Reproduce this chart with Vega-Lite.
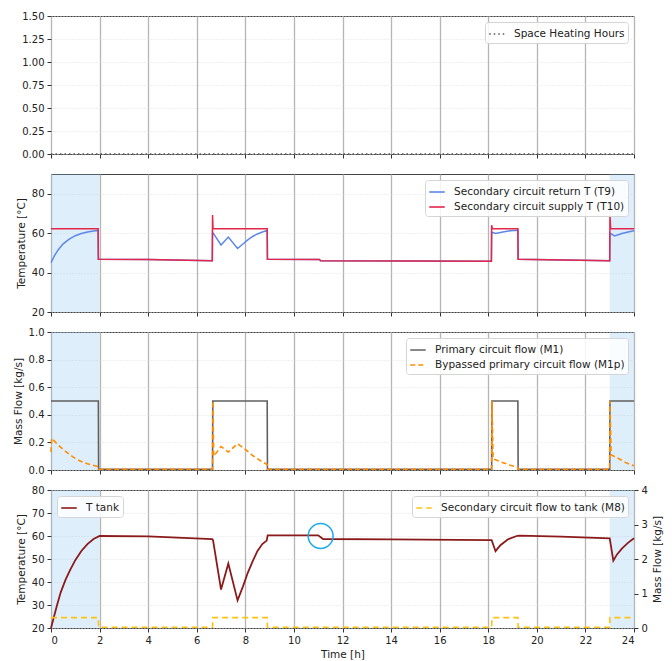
{
  "$schema": "https://vega.github.io/schema/vega-lite/v6.json",
  "autosize": {"type": "pad"},
  "padding": {"left": 12, "top": 10, "right": 5, "bottom": 5},
  "background": "white",
  "datasets": {
    "shade": [{"a": 0, "b": 2}, {"a": 23, "b": 24}],
    "p1": [{"s": "Space Heating Hours", "t": 0, "v": 0}, {"s": "Space Heating Hours", "t": 24, "v": 0}],
    "t9": [
      {"s": "Secondary circuit return T (T9)", "t": 0, "v": 45},
      {"s": "Secondary circuit return T (T9)", "t": 0.15, "v": 48.7},
      {"s": "Secondary circuit return T (T9)", "t": 0.3, "v": 51.6},
      {"s": "Secondary circuit return T (T9)", "t": 0.5, "v": 54.6},
      {"s": "Secondary circuit return T (T9)", "t": 0.75, "v": 57.0},
      {"s": "Secondary circuit return T (T9)", "t": 1.0, "v": 58.7},
      {"s": "Secondary circuit return T (T9)", "t": 1.25, "v": 59.8},
      {"s": "Secondary circuit return T (T9)", "t": 1.5, "v": 60.6},
      {"s": "Secondary circuit return T (T9)", "t": 1.75, "v": 61.1},
      {"s": "Secondary circuit return T (T9)", "t": 1.94, "v": 61.4},
      {"s": "Secondary circuit return T (T9)", "t": 1.95, "v": 46.8},
      {"s": "Secondary circuit return T (T9)", "t": 4, "v": 46.6},
      {"s": "Secondary circuit return T (T9)", "t": 6.64, "v": 46.0},
      {"s": "Secondary circuit return T (T9)", "t": 6.65, "v": 60.5},
      {"s": "Secondary circuit return T (T9)", "t": 7.0, "v": 54.0},
      {"s": "Secondary circuit return T (T9)", "t": 7.3, "v": 58.0},
      {"s": "Secondary circuit return T (T9)", "t": 7.68, "v": 52.2},
      {"s": "Secondary circuit return T (T9)", "t": 7.9, "v": 54.5},
      {"s": "Secondary circuit return T (T9)", "t": 8.1, "v": 56.6},
      {"s": "Secondary circuit return T (T9)", "t": 8.3, "v": 58.3},
      {"s": "Secondary circuit return T (T9)", "t": 8.5, "v": 59.6},
      {"s": "Secondary circuit return T (T9)", "t": 8.7, "v": 60.6},
      {"s": "Secondary circuit return T (T9)", "t": 8.9, "v": 61.3},
      {"s": "Secondary circuit return T (T9)", "t": 8.91, "v": 46.7},
      {"s": "Secondary circuit return T (T9)", "t": 11.05, "v": 46.6},
      {"s": "Secondary circuit return T (T9)", "t": 11.1, "v": 46.0},
      {"s": "Secondary circuit return T (T9)", "t": 18.13, "v": 45.8},
      {"s": "Secondary circuit return T (T9)", "t": 18.14, "v": 60.5},
      {"s": "Secondary circuit return T (T9)", "t": 18.3, "v": 59.8},
      {"s": "Secondary circuit return T (T9)", "t": 18.6, "v": 60.6},
      {"s": "Secondary circuit return T (T9)", "t": 18.9, "v": 61.2},
      {"s": "Secondary circuit return T (T9)", "t": 19.22, "v": 61.5},
      {"s": "Secondary circuit return T (T9)", "t": 19.23, "v": 46.7},
      {"s": "Secondary circuit return T (T9)", "t": 23.0, "v": 46.0},
      {"s": "Secondary circuit return T (T9)", "t": 23.01, "v": 60.0},
      {"s": "Secondary circuit return T (T9)", "t": 23.2, "v": 58.6},
      {"s": "Secondary circuit return T (T9)", "t": 23.5, "v": 59.8},
      {"s": "Secondary circuit return T (T9)", "t": 23.8, "v": 60.7},
      {"s": "Secondary circuit return T (T9)", "t": 24, "v": 61.2}
    ],
    "t10": [
      {"s": "Secondary circuit supply T (T10)", "t": 0, "v": 62.2},
      {"s": "Secondary circuit supply T (T10)", "t": 1.94, "v": 62.2},
      {"s": "Secondary circuit supply T (T10)", "t": 1.95, "v": 46.8},
      {"s": "Secondary circuit supply T (T10)", "t": 4, "v": 46.6},
      {"s": "Secondary circuit supply T (T10)", "t": 6.64, "v": 46.0},
      {"s": "Secondary circuit supply T (T10)", "t": 6.65, "v": 69.2},
      {"s": "Secondary circuit supply T (T10)", "t": 6.67, "v": 62.2},
      {"s": "Secondary circuit supply T (T10)", "t": 8.9, "v": 62.2},
      {"s": "Secondary circuit supply T (T10)", "t": 8.91, "v": 46.7},
      {"s": "Secondary circuit supply T (T10)", "t": 11.05, "v": 46.6},
      {"s": "Secondary circuit supply T (T10)", "t": 11.1, "v": 46.0},
      {"s": "Secondary circuit supply T (T10)", "t": 18.13, "v": 45.8},
      {"s": "Secondary circuit supply T (T10)", "t": 18.14, "v": 64.0},
      {"s": "Secondary circuit supply T (T10)", "t": 18.17, "v": 62.2},
      {"s": "Secondary circuit supply T (T10)", "t": 19.22, "v": 62.2},
      {"s": "Secondary circuit supply T (T10)", "t": 19.23, "v": 46.7},
      {"s": "Secondary circuit supply T (T10)", "t": 23.0, "v": 46.0},
      {"s": "Secondary circuit supply T (T10)", "t": 23.01, "v": 69.0},
      {"s": "Secondary circuit supply T (T10)", "t": 23.04, "v": 62.2},
      {"s": "Secondary circuit supply T (T10)", "t": 24, "v": 62.2}
    ],
    "m1": [
      {"s": "Primary circuit flow (M1)", "t": 0, "v": 0.5},
      {"s": "Primary circuit flow (M1)", "t": 1.95, "v": 0.5},
      {"s": "Primary circuit flow (M1)", "t": 1.96, "v": 0.005},
      {"s": "Primary circuit flow (M1)", "t": 6.65, "v": 0.005},
      {"s": "Primary circuit flow (M1)", "t": 6.66, "v": 0.5},
      {"s": "Primary circuit flow (M1)", "t": 8.9, "v": 0.5},
      {"s": "Primary circuit flow (M1)", "t": 8.91, "v": 0.005},
      {"s": "Primary circuit flow (M1)", "t": 18.14, "v": 0.005},
      {"s": "Primary circuit flow (M1)", "t": 18.15, "v": 0.5},
      {"s": "Primary circuit flow (M1)", "t": 19.22, "v": 0.5},
      {"s": "Primary circuit flow (M1)", "t": 19.23, "v": 0.005},
      {"s": "Primary circuit flow (M1)", "t": 23.0, "v": 0.005},
      {"s": "Primary circuit flow (M1)", "t": 23.01, "v": 0.5},
      {"s": "Primary circuit flow (M1)", "t": 24, "v": 0.5}
    ],
    "m1p": [
      {"s": "Bypassed primary circuit flow (M1p)", "t": 0, "v": 0.13},
      {"s": "Bypassed primary circuit flow (M1p)", "t": 0.03, "v": 0.23},
      {"s": "Bypassed primary circuit flow (M1p)", "t": 0.3, "v": 0.18},
      {"s": "Bypassed primary circuit flow (M1p)", "t": 0.6, "v": 0.135},
      {"s": "Bypassed primary circuit flow (M1p)", "t": 0.9, "v": 0.095},
      {"s": "Bypassed primary circuit flow (M1p)", "t": 1.2, "v": 0.065},
      {"s": "Bypassed primary circuit flow (M1p)", "t": 1.5, "v": 0.045},
      {"s": "Bypassed primary circuit flow (M1p)", "t": 1.95, "v": 0.025},
      {"s": "Bypassed primary circuit flow (M1p)", "t": 1.96, "v": 0.005},
      {"s": "Bypassed primary circuit flow (M1p)", "t": 6.65, "v": 0.005},
      {"s": "Bypassed primary circuit flow (M1p)", "t": 6.66, "v": 0.5},
      {"s": "Bypassed primary circuit flow (M1p)", "t": 6.7, "v": 0.1},
      {"s": "Bypassed primary circuit flow (M1p)", "t": 7.0, "v": 0.17},
      {"s": "Bypassed primary circuit flow (M1p)", "t": 7.3, "v": 0.13},
      {"s": "Bypassed primary circuit flow (M1p)", "t": 7.68, "v": 0.19},
      {"s": "Bypassed primary circuit flow (M1p)", "t": 8.0, "v": 0.15},
      {"s": "Bypassed primary circuit flow (M1p)", "t": 8.3, "v": 0.105},
      {"s": "Bypassed primary circuit flow (M1p)", "t": 8.6, "v": 0.07},
      {"s": "Bypassed primary circuit flow (M1p)", "t": 8.9, "v": 0.04},
      {"s": "Bypassed primary circuit flow (M1p)", "t": 8.91, "v": 0.005},
      {"s": "Bypassed primary circuit flow (M1p)", "t": 18.14, "v": 0.005},
      {"s": "Bypassed primary circuit flow (M1p)", "t": 18.15, "v": 0.5},
      {"s": "Bypassed primary circuit flow (M1p)", "t": 18.2, "v": 0.08},
      {"s": "Bypassed primary circuit flow (M1p)", "t": 18.5, "v": 0.06},
      {"s": "Bypassed primary circuit flow (M1p)", "t": 18.9, "v": 0.035},
      {"s": "Bypassed primary circuit flow (M1p)", "t": 19.22, "v": 0.02},
      {"s": "Bypassed primary circuit flow (M1p)", "t": 19.23, "v": 0.005},
      {"s": "Bypassed primary circuit flow (M1p)", "t": 23.0, "v": 0.005},
      {"s": "Bypassed primary circuit flow (M1p)", "t": 23.01, "v": 0.5},
      {"s": "Bypassed primary circuit flow (M1p)", "t": 23.06, "v": 0.11},
      {"s": "Bypassed primary circuit flow (M1p)", "t": 23.4, "v": 0.08},
      {"s": "Bypassed primary circuit flow (M1p)", "t": 23.7, "v": 0.05},
      {"s": "Bypassed primary circuit flow (M1p)", "t": 24, "v": 0.03}
    ],
    "tank": [
      {"s": "T tank", "t": 0, "v": 20},
      {"s": "T tank", "t": 0.1, "v": 24},
      {"s": "T tank", "t": 0.25, "v": 30},
      {"s": "T tank", "t": 0.4, "v": 35.5},
      {"s": "T tank", "t": 0.6, "v": 41},
      {"s": "T tank", "t": 0.8, "v": 45.5},
      {"s": "T tank", "t": 1.0, "v": 49.5},
      {"s": "T tank", "t": 1.25, "v": 53.5},
      {"s": "T tank", "t": 1.5, "v": 56.5},
      {"s": "T tank", "t": 1.75, "v": 58.7},
      {"s": "T tank", "t": 2.0, "v": 60.0},
      {"s": "T tank", "t": 4, "v": 59.8},
      {"s": "T tank", "t": 6.64, "v": 58.6},
      {"s": "T tank", "t": 6.67, "v": 58.2},
      {"s": "T tank", "t": 7.0, "v": 36.7},
      {"s": "T tank", "t": 7.3, "v": 48},
      {"s": "T tank", "t": 7.68, "v": 32},
      {"s": "T tank", "t": 7.9, "v": 38},
      {"s": "T tank", "t": 8.1, "v": 44},
      {"s": "T tank", "t": 8.3, "v": 49},
      {"s": "T tank", "t": 8.5, "v": 53.5},
      {"s": "T tank", "t": 8.7, "v": 56.5},
      {"s": "T tank", "t": 8.88, "v": 58},
      {"s": "T tank", "t": 8.92, "v": 60.3},
      {"s": "T tank", "t": 11.0, "v": 60.3},
      {"s": "T tank", "t": 11.2, "v": 58.7},
      {"s": "T tank", "t": 14, "v": 58.5},
      {"s": "T tank", "t": 18.14, "v": 58.2},
      {"s": "T tank", "t": 18.3, "v": 53.4},
      {"s": "T tank", "t": 18.5, "v": 56},
      {"s": "T tank", "t": 18.8, "v": 58.5},
      {"s": "T tank", "t": 19.2, "v": 60.1},
      {"s": "T tank", "t": 19.3, "v": 60.2},
      {"s": "T tank", "t": 21, "v": 59.7},
      {"s": "T tank", "t": 23.0, "v": 59.0},
      {"s": "T tank", "t": 23.15, "v": 49.3},
      {"s": "T tank", "t": 23.3, "v": 52},
      {"s": "T tank", "t": 23.5, "v": 54.5},
      {"s": "T tank", "t": 23.75, "v": 57},
      {"s": "T tank", "t": 24, "v": 59}
    ],
    "m8": [
      {"s": "Secondary circuit flow to tank (M8)", "t": 0, "v": 0.3},
      {"s": "Secondary circuit flow to tank (M8)", "t": 1.95, "v": 0.3},
      {"s": "Secondary circuit flow to tank (M8)", "t": 1.96, "v": 0.02},
      {"s": "Secondary circuit flow to tank (M8)", "t": 6.65, "v": 0.02},
      {"s": "Secondary circuit flow to tank (M8)", "t": 6.66, "v": 0.3},
      {"s": "Secondary circuit flow to tank (M8)", "t": 8.9, "v": 0.3},
      {"s": "Secondary circuit flow to tank (M8)", "t": 8.91, "v": 0.02},
      {"s": "Secondary circuit flow to tank (M8)", "t": 18.14, "v": 0.02},
      {"s": "Secondary circuit flow to tank (M8)", "t": 18.15, "v": 0.3},
      {"s": "Secondary circuit flow to tank (M8)", "t": 19.22, "v": 0.3},
      {"s": "Secondary circuit flow to tank (M8)", "t": 19.23, "v": 0.02},
      {"s": "Secondary circuit flow to tank (M8)", "t": 23.0, "v": 0.02},
      {"s": "Secondary circuit flow to tank (M8)", "t": 23.01, "v": 0.3},
      {"s": "Secondary circuit flow to tank (M8)", "t": 24, "v": 0.3}
    ],
    "ann": [{"t": 11.1, "v": 60}]
  },
  "vconcat": [
    {
      "width": 583, "height": 138,
      "data": {"name": "p1"},
      "mark": {"type": "line", "strokeWidth": 1.6},
      "encoding": {
        "x": {"field": "t", "type": "quantitative", "scale": {"domain": [0, 24], "nice": false}, "axis": {"values": [0,2,4,6,8,10,12,14,16,18,20,22,24], "labels": false, "title": null}},
        "y": {"field": "v", "type": "quantitative", "scale": {"domain": [0, 1.5], "nice": false}, "axis": {"values": [0,0.25,0.5,0.75,1,1.25,1.5], "format": ".2f", "title": null, "labelOverlap": false}},
        "color": {"field": "s", "type": "nominal", "scale": {"domain": ["Space Heating Hours"], "range": ["#555555"]}, "legend": {"orient": "top-right"}},
        "strokeDash": {"field": "s", "type": "nominal", "scale": {"domain": ["Space Heating Hours"], "range": [[1.5, 3]]}, "legend": {"orient": "top-right"}}
      }
    },
    {
      "width": 583, "height": 138,
      "layer": [
        {
          "data": {"name": "shade"},
          "mark": {"type": "rect", "color": "#7fbbef", "opacity": 0.25},
          "encoding": {
            "x": {"field": "a", "type": "quantitative", "scale": {"domain": [0, 24], "nice": false}, "axis": {"values": [0,2,4,6,8,10,12,14,16,18,20,22,24], "labels": false, "title": null}},
            "x2": {"field": "b"}
          }
        },
        {
          "data": {"name": "t9"},
          "mark": {"type": "line", "strokeWidth": 1.5},
          "encoding": {
            "x": {"field": "t", "type": "quantitative", "scale": {"domain": [0, 24], "nice": false}, "axis": {"values": [0,2,4,6,8,10,12,14,16,18,20,22,24], "labels": false, "title": null}},
            "y": {"field": "v", "type": "quantitative", "scale": {"domain": [20, 90], "nice": false, "zero": false}, "axis": {"values": [20,40,60,80], "title": "Temperature [°C]", "labelOverlap": false}},
            "color": {"field": "s", "type": "nominal", "scale": {"domain": ["Secondary circuit return T (T9)", "Secondary circuit supply T (T10)"], "range": ["#5b87e8", "#e3264a"]}, "legend": {"orient": "top-right"}}
          }
        },
        {
          "data": {"name": "t10"},
          "mark": {"type": "line", "strokeWidth": 1.5},
          "encoding": {
            "x": {"field": "t", "type": "quantitative", "axis": {"values": [0,2,4,6,8,10,12,14,16,18,20,22,24], "labels": false, "title": null}},
            "y": {"field": "v", "type": "quantitative", "axis": {"values": [20,40,60,80], "title": "Temperature [°C]", "labelOverlap": false}},
            "color": {"field": "s", "type": "nominal"}
          }
        }
      ]
    },
    {
      "width": 583, "height": 138,
      "layer": [
        {
          "data": {"name": "shade"},
          "mark": {"type": "rect", "color": "#7fbbef", "opacity": 0.25},
          "encoding": {
            "x": {"field": "a", "type": "quantitative", "scale": {"domain": [0, 24], "nice": false}, "axis": {"values": [0,2,4,6,8,10,12,14,16,18,20,22,24], "labels": false, "title": null}},
            "x2": {"field": "b"}
          }
        },
        {
          "data": {"name": "m1"},
          "mark": {"type": "line", "strokeWidth": 1.6},
          "encoding": {
            "x": {"field": "t", "type": "quantitative", "scale": {"domain": [0, 24], "nice": false}, "axis": {"values": [0,2,4,6,8,10,12,14,16,18,20,22,24], "labels": false, "title": null}},
            "y": {"field": "v", "type": "quantitative", "scale": {"domain": [0, 1], "nice": false}, "axis": {"values": [0,0.2,0.4,0.6,0.8,1], "format": ".1f", "title": "Mass Flow [kg/s]", "labelOverlap": false}},
            "color": {"field": "s", "type": "nominal", "scale": {"domain": ["Primary circuit flow (M1)", "Bypassed primary circuit flow (M1p)"], "range": ["#606060", "#ff8c00"]}, "legend": {"orient": "top-right"}},
            "strokeDash": {"field": "s", "type": "nominal", "scale": {"domain": ["Primary circuit flow (M1)", "Bypassed primary circuit flow (M1p)"], "range": [[1, 0], [5, 3]]}, "legend": {"orient": "top-right"}}
          }
        },
        {
          "data": {"name": "m1p"},
          "mark": {"type": "line", "strokeWidth": 1.6},
          "encoding": {
            "x": {"field": "t", "type": "quantitative", "axis": {"values": [0,2,4,6,8,10,12,14,16,18,20,22,24], "labels": false, "title": null}},
            "y": {"field": "v", "type": "quantitative", "axis": {"values": [0,0.2,0.4,0.6,0.8,1], "format": ".1f", "title": "Mass Flow [kg/s]", "labelOverlap": false}},
            "color": {"field": "s", "type": "nominal"},
            "strokeDash": {"field": "s", "type": "nominal"}
          }
        }
      ]
    },
    {
      "width": 583, "height": 138,
      "layer": [
        {
          "layer": [
            {
              "data": {"name": "shade"},
              "mark": {"type": "rect", "color": "#7fbbef", "opacity": 0.25},
              "encoding": {
                "x": {"field": "a", "type": "quantitative", "scale": {"domain": [0, 24], "nice": false}, "axis": {"values": [0,2,4,6,8,10,12,14,16,18,20,22,24], "title": "Time [h]", "format": "d"}},
                "x2": {"field": "b"}
              }
            },
            {
              "data": {"name": "tank"},
              "mark": {"type": "line", "strokeWidth": 1.8},
              "encoding": {
                "x": {"field": "t", "type": "quantitative", "scale": {"domain": [0, 24], "nice": false}, "axis": {"values": [0,2,4,6,8,10,12,14,16,18,20,22,24], "title": "Time [h]", "format": "d"}},
                "y": {"field": "v", "type": "quantitative", "scale": {"domain": [20, 80], "nice": false, "zero": false}, "axis": {"values": [20,30,40,50,60,70,80], "title": "Temperature [°C]", "orient": "left", "labelOverlap": false}},
                "color": {"field": "s", "type": "nominal", "scale": {"domain": ["T tank"], "range": ["#8b1a1a"]}, "legend": {"orient": "top-left"}}
              }
            },
            {
              "data": {"name": "ann"},
              "mark": {"type": "point", "shape": "circle", "filled": false, "size": 620, "stroke": "#1aa8ee", "strokeWidth": 1.5, "opacity": 1},
              "encoding": {
                "x": {"field": "t", "type": "quantitative", "axis": {"values": [0,2,4,6,8,10,12,14,16,18,20,22,24], "title": "Time [h]", "format": "d"}},
                "y": {"field": "v", "type": "quantitative", "axis": {"values": [20,30,40,50,60,70,80], "title": "Temperature [°C]", "orient": "left", "labelOverlap": false}}
              }
            }
          ]
        },
        {
          "data": {"name": "m8"},
          "mark": {"type": "line", "strokeWidth": 1.6},
          "encoding": {
            "x": {"field": "t", "type": "quantitative", "scale": {"domain": [0, 24], "nice": false}, "axis": {"values": [0,2,4,6,8,10,12,14,16,18,20,22,24], "title": "Time [h]", "format": "d"}},
            "y": {"field": "v", "type": "quantitative", "scale": {"domain": [0, 4], "nice": false}, "axis": {"values": [0,1,2,3,4], "title": "Mass Flow [kg/s]", "orient": "right", "grid": false, "titleAngle": 270, "titleBaseline": "top", "labelOverlap": false}},
            "color": {"field": "s", "type": "nominal", "scale": {"domain": ["Secondary circuit flow to tank (M8)"], "range": ["#ffc20e"]}, "legend": {"orient": "top-right"}},
            "strokeDash": {"field": "s", "type": "nominal", "scale": {"domain": ["Secondary circuit flow to tank (M8)"], "range": [[6, 4]]}, "legend": {"orient": "top-right"}}
          }
        }
      ],
      "resolve": {"scale": {"y": "independent", "color": "independent", "strokeDash": "independent"}}
    }
  ],
  "resolve": {"scale": {"color": "independent", "strokeDash": "independent"}},
  "spacing": 20,
  "bounds": "flush",
  "config": {
    "font": "DejaVu Sans",
    "view": {"stroke": "#444444", "strokeWidth": 1},
    "axis": {
      "labelFont": "DejaVu Sans", "labelFontSize": 10, "labelColor": "#222222",
      "titleFont": "DejaVu Sans", "titleFontSize": 10.5, "titleFontWeight": "normal", "titleColor": "#222222",
      "tickColor": "#333333", "tickSize": 4, "domain": false, "labelPadding": 3
    },
    "axisX": {"gridColor": "#b5b5b5", "gridWidth": 1.3, "gridOpacity": 1},
    "axisY": {"gridColor": "#d8d8d8", "gridDash": [1, 2], "gridWidth": 0.8, "titlePadding": 5, "labelOverlap": false, "labelFlush": false},
    "legend": {
      "title": null,
      "labelFont": "DejaVu Sans", "labelFontSize": 10.5, "labelColor": "#222222", "labelLimit": 400,
      "strokeColor": "#d5d5d5", "fillColor": "rgba(255,255,255,0.85)", "padding": 3, "cornerRadius": 3,
      "symbolType": "stroke", "symbolSize": 240, "symbolStrokeWidth": 1.6, "rowPadding": 0, "offset": 6, "labelOffset": 8
    }
  }
}
